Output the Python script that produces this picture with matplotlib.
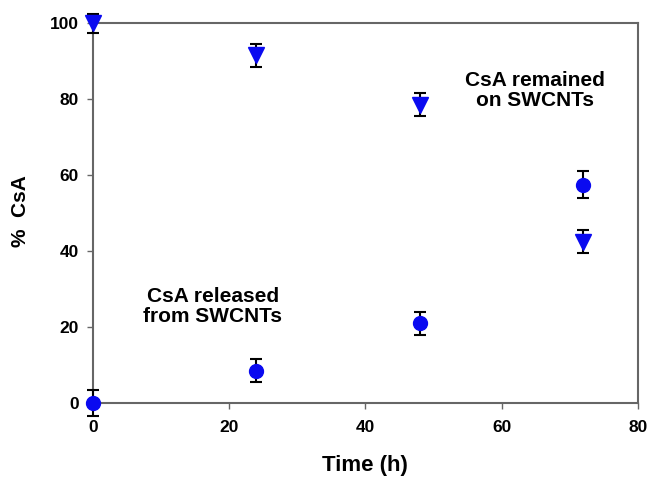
import matplotlib
matplotlib.use("Agg")
import matplotlib.pyplot as plt

time_h = [0, 24, 48, 72]
remained = [100, 91.5, 78.5, 42.5]
remained_err = [2.5, 3, 3, 3]
released = [0, 8.5, 21, 57.5]
released_err = [3.5, 3, 3, 3.5]

plt.rcParams['font.family'] = ['Liberation Sans', 'DejaVu Sans']
plt.rcParams['font.weight'] = 'bold'

fig = plt.figure(figsize=(6.49, 4.82), dpi=100)
ax = fig.add_axes([0.143, 0.164, 0.840, 0.788])

blue = '#0a0af0'
ax.errorbar(time_h, remained, yerr=remained_err, fmt='v', color=blue, ms=11,
            ecolor='black', elinewidth=1.5, capsize=4, capthick=1.5, clip_on=False, zorder=3)
ax.errorbar(time_h, released, yerr=released_err, fmt='o', color=blue, ms=10,
            ecolor='black', elinewidth=1.5, capsize=4, capthick=1.5, clip_on=False, zorder=3)

ax.set_xlim(0, 80)
ax.set_ylim(0, 100)
ax.set_xticks([0, 20, 40, 60, 80])
ax.set_yticks([0, 20, 40, 60, 80, 100])
for s in ax.spines.values():
    s.set_color('#666666')
    s.set_linewidth(1.5)
ax.tick_params(direction='out', length=4, width=1, color='#666666', labelsize=12.5, pad=6)
ax.tick_params(axis='x', pad=8)
for lab in ax.get_xticklabels() + ax.get_yticklabels():
    lab.set_fontweight('bold')

ax.set_xlabel('Time (h)', fontsize=16, fontweight='bold', labelpad=15)
ax.set_ylabel('%  CsA', fontsize=15, fontweight='bold')
ax.yaxis.set_label_coords(-0.115, 0.505)

ax.text(64.9, 82.3, 'CsA remained\non SWCNTs', ha='center', va='center', fontsize=15,
        fontweight='bold', linespacing=1.05)
ax.text(17.6, 25.3, 'CsA released\nfrom SWCNTs', ha='center', va='center', fontsize=15,
        fontweight='bold', linespacing=1.05)

fig.savefig('out.png', dpi=100)
